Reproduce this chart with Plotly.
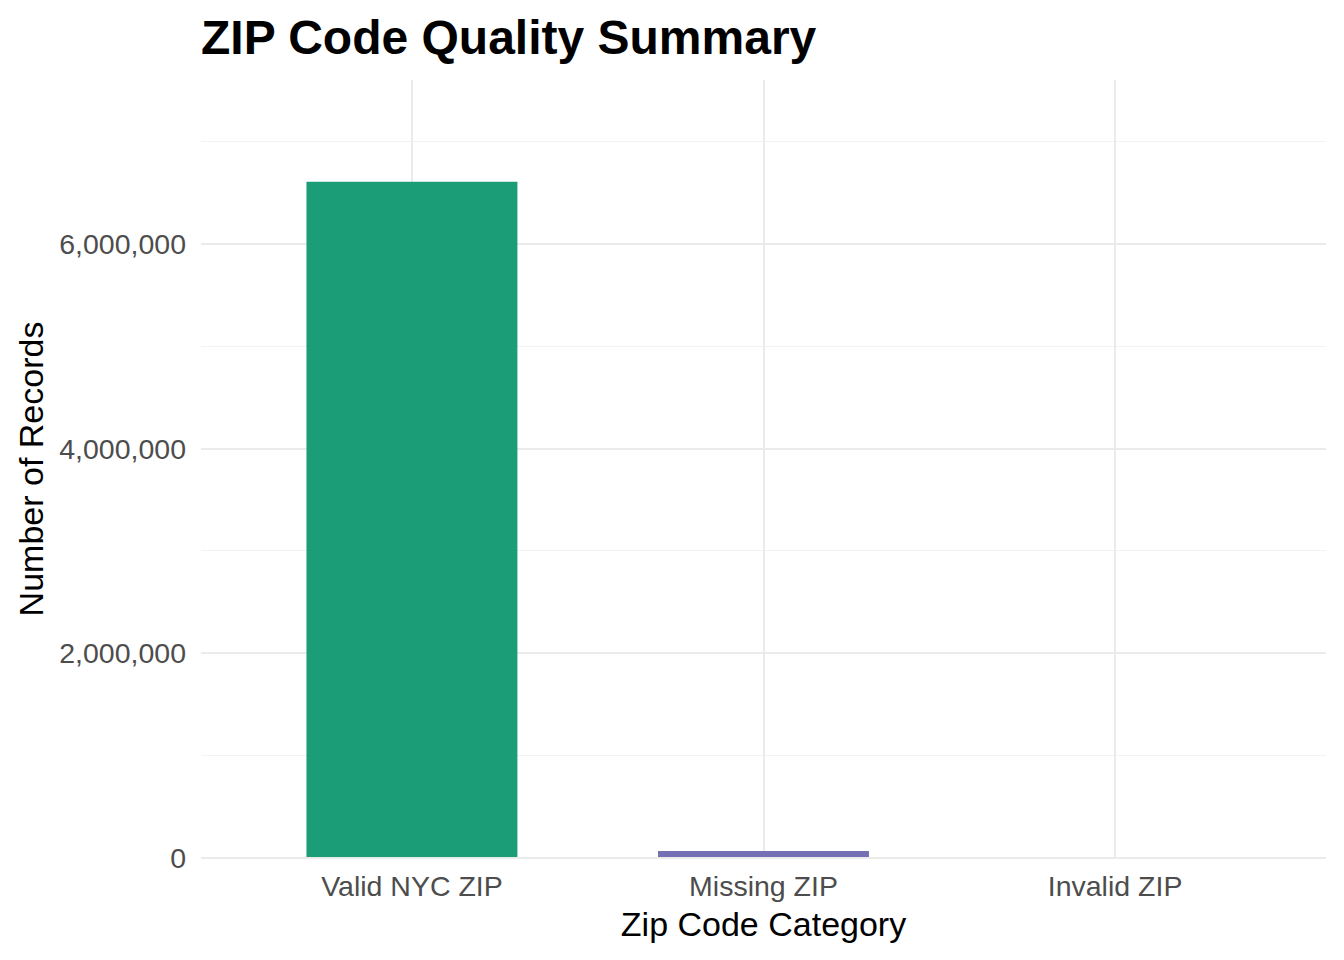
import plotly.graph_objects as go

categories = ["Valid NYC ZIP", "Missing ZIP", "Invalid ZIP"]
counts = [6605000, 68000, 200]
colors = ["#1b9e77", "#7570b3", "#d95f02"]
tick_vals = [0, 2000000, 4000000, 6000000]
tick_text = ["0", "2,000,000", "4,000,000", "6,000,000"]

FONT = "Liberation Sans, Arial, sans-serif"

# page body has an 8px margin, so the figure is sized/positioned to compensate
fig = go.Figure()
fig.add_trace(go.Bar(
    x=categories, y=counts, marker=dict(color=colors, line=dict(width=0)),
    width=0.6, showlegend=False,
))

fig.update_layout(
    width=1328, height=944,
    paper_bgcolor="white", plot_bgcolor="white",
    margin=dict(l=193, r=10, t=72, b=94),
    font=dict(family=FONT, color="#4d4d4d"),
    title=dict(
        text="<b>ZIP Code Quality Summary</b>",
        font=dict(family=FONT, size=48, color="black"),
        x=0, xref="paper", xanchor="left",
        y=1 - 29 / 944, yref="container", yanchor="middle",
    ),
    xaxis=dict(
        range=[-0.6, 2.6], showgrid=True, gridcolor="#ebebeb", gridwidth=2,
        tickfont=dict(size=28.5, color="#4d4d4d"), ticks="", showline=False,
        ticklabelstandoff=8,
        title=dict(text="Zip Code Category", font=dict(size=34, color="black"), standoff=11),
        zeroline=False,
    ),
    yaxis=dict(
        range=[0, 7600000], tickvals=tick_vals, ticktext=tick_text,
        showgrid=True, gridcolor="#ebebeb", gridwidth=2,
        minor=dict(dtick=1000000, tick0=1000000, showgrid=True, gridcolor="#f2f2f2", gridwidth=1),
        tickfont=dict(size=28.5, color="#4d4d4d"), ticks="", showline=False,
        ticklabelstandoff=14,
        title=dict(text="Number of Records", font=dict(size=34, color="black"), standoff=5),
        zeroline=True, zerolinecolor="#ebebeb", zerolinewidth=2,
    ),
    bargap=0.4,
)
try:
    fig.update_yaxes(zerolinelayer="above traces")
except Exception:
    pass

fig.write_html("out.html")
